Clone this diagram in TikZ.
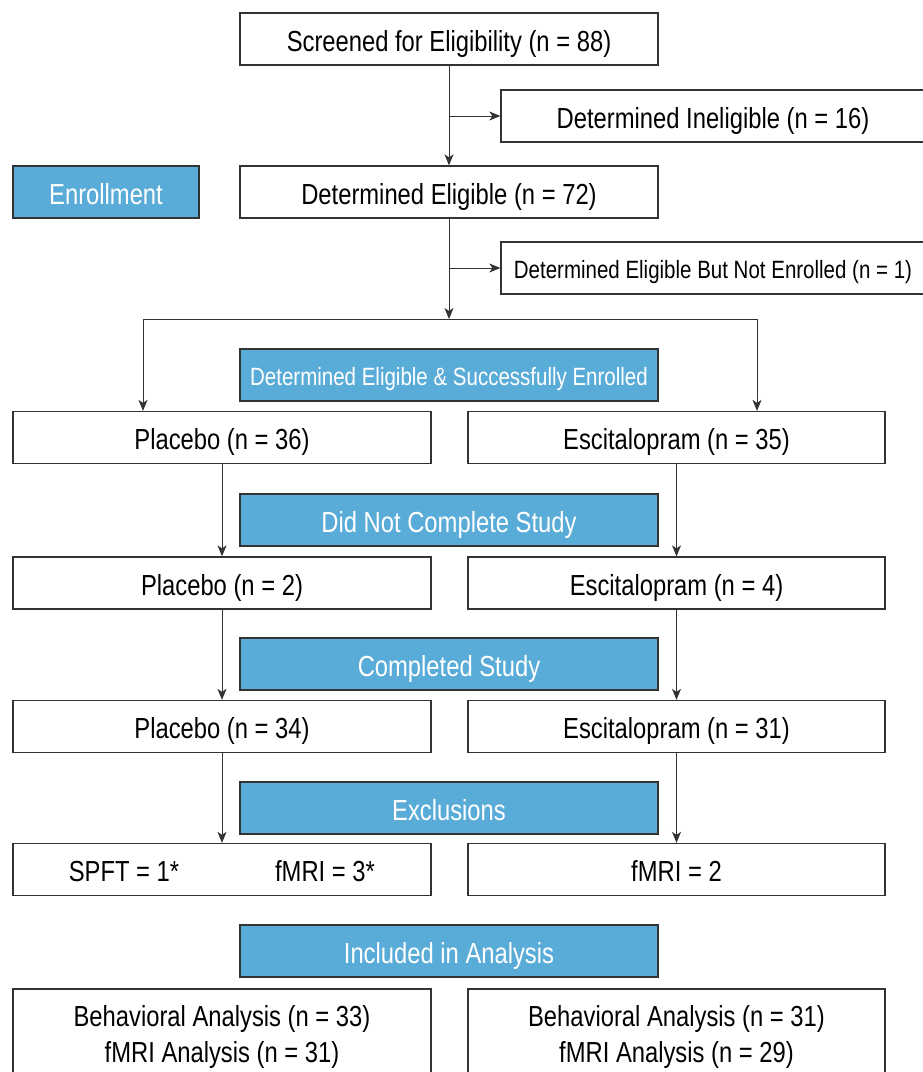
\documentclass[tikz,border=0pt]{standalone}
\usepackage{fontspec}
\setmainfont{Liberation Sans}[FakeStretch=0.82]
\usetikzlibrary{arrows.meta}
\definecolor{boxblue}{RGB}{90,172,216}
\definecolor{boxedge}{RGB}{51,51,51}
\begin{document}
\begin{tikzpicture}[x=1pt,y=-1pt,
	whitebox/.style={draw=boxedge, line width=1.3pt, fill=white, minimum width=418pt, minimum height=52pt, inner sep=0pt, text height=24pt, text depth=0pt, font=\fontsize{29}{36}\selectfont},
	smalltext/.style={text height=20pt, font=\fontsize{25}{30}\selectfont},
	bluebox/.style={whitebox, fill=boxblue, text=white},
	arr/.style={-{Stealth[length=11pt,width=9pt,inset=3pt]}, line width=1pt, draw=boxedge},
	link/.style={line width=1pt, draw=boxedge}]

		\useasboundingbox (0,0) rectangle (923,1072);
		\clip (0,0) rectangle (923,1072);

		% screening and enrollment
		\node[whitebox] (screen) at (449,39) {Screened for Eligibility (n = 88)};
		\node[whitebox, minimum width=424pt] (inel) at (713,116) {Determined Ineligible (n = 16)};
		\node[bluebox, minimum width=186pt] (enroll) at (106,192) {Enrollment};
		\node[whitebox] (elig) at (449,192) {Determined Eligible (n = 72)};
		\node[whitebox, minimum width=424pt, smalltext] (notenr) at (713,268) {Determined Eligible But Not Enrolled (n = 1)};
		\coordinate (split) at (449,319);
		\coordinate (lsplit) at (143,319);
		\coordinate (rsplit) at (757,319);

		% group boxes
		\node[bluebox, smalltext] (succ) at (449,375) {Determined Eligible \& Successfully Enrolled};
		\node[whitebox] (plc1) at (222,437.5) {Placebo (n = 36)};
		\node[whitebox, minimum width=417pt] (esc1) at (676.5,437.5) {Escitalopram (n = 35)};

		\node[bluebox] (dnc) at (449,520) {Did Not Complete Study};
		\node[whitebox] (plc2) at (222,583) {Placebo (n = 2)};
		\node[whitebox, minimum width=417pt] (esc2) at (676.5,583) {Escitalopram (n = 4)};

		\node[bluebox] (comp) at (449,664) {Completed Study};
		\node[whitebox] (plc3) at (222,726.5) {Placebo (n = 34)};
		\node[whitebox, minimum width=417pt] (esc3) at (676.5,726.5) {Escitalopram (n = 31)};

		\node[bluebox] (excl) at (449,808) {Exclusions};
		\node[whitebox] (plc4) at (222,869.5) {};
		\node[font=\fontsize{29}{36}\selectfont, text height=24pt, text depth=0pt, inner sep=0pt] (spft) at (124,869.5) {SPFT = 1*};
		\node[font=\fontsize{29}{36}\selectfont, text height=24pt, text depth=0pt, inner sep=0pt] (fmri) at (325,869.5) {fMRI = 3*};
		\node[whitebox, minimum width=417pt] (esc4) at (676.5,869.5) {fMRI = 2};

		\node[bluebox] (incl) at (449,951) {Included in Analysis};
		\node[whitebox, minimum height=96pt, text height=, text depth=, align=center] (plc5) at (222,1037) {Behavioral Analysis (n = 33)\\fMRI Analysis (n = 31)};
		\node[whitebox, minimum height=96pt, text height=, text depth=, minimum width=417pt, align=center] (esc5) at (676.5,1037) {Behavioral Analysis (n = 31)\\fMRI Analysis (n = 29)};

		% connectors
		\draw[arr] (screen) -- (elig);
		\draw[arr] (screen.south |- inel.west) -- (inel.west);
		\draw[arr] (elig) -- (split);
		\draw[arr] (elig.south |- notenr.west) -- (notenr.west);
		\draw[link] (lsplit) -- (rsplit);
		\draw[arr] (lsplit) -- (lsplit |- plc1.north);
		\draw[arr] (rsplit) -- (rsplit |- esc1.north);

		\draw[arr] (plc1) -- (plc2);
		\draw[arr] (esc1) -- (esc2);
		\draw[arr] (plc2) -- (plc3);
		\draw[arr] (esc2) -- (esc3);
		\draw[arr] (plc3) -- (plc4);
		\draw[arr] (esc3) -- (esc4);
	\end{tikzpicture}
\end{document}
